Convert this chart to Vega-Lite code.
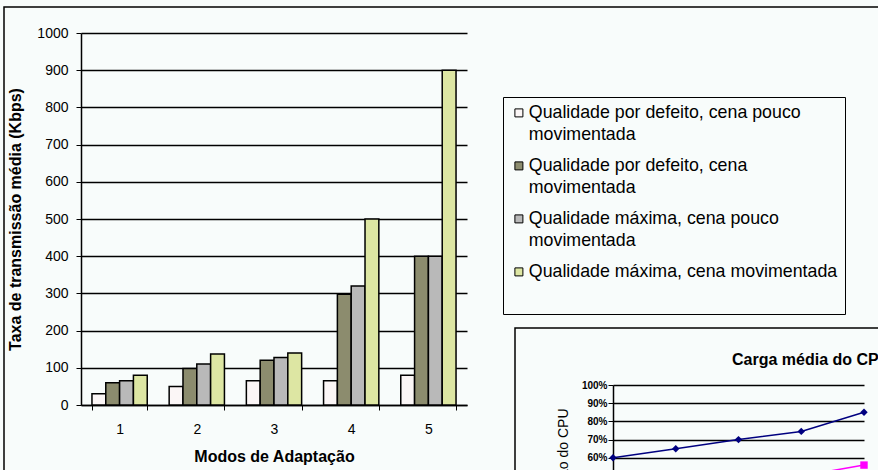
{
  "$schema": "https://vega.github.io/schema/vega-lite/v6.json",
  "width": 894,
  "height": 483,
  "autosize": {"type": "none"},
  "padding": {"left": 4, "top": 7, "right": -20, "bottom": -20},
  "background": "#f8fcfb",
  "config": {
    "font": "Liberation Sans",
    "view": {"stroke": "#000000", "strokeWidth": 1.5, "fill": null},
    "style": {"guide-label": {"lineHeight": 22}},
    "axis": {"labelColor": "#000000", "titleColor": "#000000", "domainColor": "#000000", "tickColor": "#000000", "gridColor": "#000000", "gridOpacity": 1}
  },
  "title": {
    "text": "Carga média do CPU",
    "anchor": "start",
    "frame": "group",
    "orient": "top",
    "offset": 0,
    "dx": 728,
    "dy": 374,
    "fontSize": 16,
    "fontWeight": "bold",
    "color": "#000000",
    "baseline": "alphabetic"
  },
  "datasets": {
    "barras": [
      {"modo": "1", "serie": "Qualidade por defeito, cena pouco movimentada", "valor": 30},
      {"modo": "1", "serie": "Qualidade por defeito, cena movimentada", "valor": 60},
      {"modo": "1", "serie": "Qualidade máxima, cena pouco movimentada", "valor": 65},
      {"modo": "1", "serie": "Qualidade máxima, cena movimentada", "valor": 80},
      {"modo": "2", "serie": "Qualidade por defeito, cena pouco movimentada", "valor": 50},
      {"modo": "2", "serie": "Qualidade por defeito, cena movimentada", "valor": 98},
      {"modo": "2", "serie": "Qualidade máxima, cena pouco movimentada", "valor": 110},
      {"modo": "2", "serie": "Qualidade máxima, cena movimentada", "valor": 137},
      {"modo": "3", "serie": "Qualidade por defeito, cena pouco movimentada", "valor": 65},
      {"modo": "3", "serie": "Qualidade por defeito, cena movimentada", "valor": 120},
      {"modo": "3", "serie": "Qualidade máxima, cena pouco movimentada", "valor": 128},
      {"modo": "3", "serie": "Qualidade máxima, cena movimentada", "valor": 140},
      {"modo": "4", "serie": "Qualidade por defeito, cena pouco movimentada", "valor": 65},
      {"modo": "4", "serie": "Qualidade por defeito, cena movimentada", "valor": 298},
      {"modo": "4", "serie": "Qualidade máxima, cena pouco movimentada", "valor": 320},
      {"modo": "4", "serie": "Qualidade máxima, cena movimentada", "valor": 500},
      {"modo": "5", "serie": "Qualidade por defeito, cena pouco movimentada", "valor": 80},
      {"modo": "5", "serie": "Qualidade por defeito, cena movimentada", "valor": 400},
      {"modo": "5", "serie": "Qualidade máxima, cena pouco movimentada", "valor": 400},
      {"modo": "5", "serie": "Qualidade máxima, cena movimentada", "valor": 900}
    ],
    "cpu": [
      {"modo": "1", "serie": "A", "carga": 0.60},
      {"modo": "2", "serie": "A", "carga": 0.65},
      {"modo": "3", "serie": "A", "carga": 0.70},
      {"modo": "4", "serie": "A", "carga": 0.745},
      {"modo": "5", "serie": "A", "carga": 0.85},
      {"modo": "1", "serie": "B", "carga": 0.40},
      {"modo": "2", "serie": "B", "carga": 0.43},
      {"modo": "3", "serie": "B", "carga": 0.45},
      {"modo": "4", "serie": "B", "carga": 0.50},
      {"modo": "5", "serie": "B", "carga": 0.56}
    ],
    "moldura": [
      {"elemento": "área do gráfico de CPU", "x0": 0, "x1": 1, "y0": 0, "y1": 1}
    ]
  },
  "resolve": {
    "scale": {"x": "independent", "y": "independent", "color": "independent", "shape": "independent"},
    "axis": {"x": "independent", "y": "independent"}
  },
  "layer": [
    {
      "data": {"name": "moldura"},
      "mark": {"type": "rect", "stroke": "#000000", "strokeWidth": 1.5, "fill": null, "fillOpacity": 0},
      "encoding": {
        "x": {"field": "x0", "type": "quantitative", "scale": {"domain": [0, 1], "range": [511, 900], "nice": false, "zero": false}, "axis": null},
        "x2": {"field": "x1"},
        "y": {"field": "y0", "type": "quantitative", "scale": {"domain": [0, 1], "range": [321, 520], "nice": false, "zero": false}, "axis": null},
        "y2": {"field": "y1"}
      }
    },
    {
      "data": {"name": "barras"},
      "mark": {"type": "bar", "stroke": "#000000", "strokeWidth": 1.5},
      "encoding": {
        "x": {
          "field": "modo", "type": "ordinal",
          "scale": {"range": [77, 463], "paddingInner": 0.284, "paddingOuter": 0.142},
          "axis": {
            "orient": "bottom", "offset": -85, "tickBand": "extent", "tickSize": 5, "labelAngle": 0,
            "labelFontSize": 14, "labelPadding": 12, "domainWidth": 1.5, "grid": false,
            "title": "Modos de Adaptação", "titleFontSize": 16, "titleFontWeight": "bold",
            "titleBaseline": "alphabetic", "titleY": 56
          }
        },
        "xOffset": {
          "field": "serie", "type": "nominal",
          "sort": ["Qualidade por defeito, cena pouco movimentada", "Qualidade por defeito, cena movimentada", "Qualidade máxima, cena pouco movimentada", "Qualidade máxima, cena movimentada"],
          "scale": {"paddingInner": 0, "paddingOuter": 0}
        },
        "y": {
          "field": "valor", "type": "quantitative",
          "scale": {"domain": [0, 1000], "range": [398, 26], "nice": false},
          "axis": {
            "orient": "left", "offset": -77, "values": [0, 100, 200, 300, 400, 500, 600, 700, 800, 900, 1000],
            "format": "d",
            "grid": true, "gridWidth": 1.5, "domainWidth": 1.5, "tickSize": 5, "labelFontSize": 14, "labelPadding": 8,
            "title": "Taxa de transmissão média (Kbps)", "titleFontSize": 16, "titleFontWeight": "bold",
            "titleAngle": 270, "titleBaseline": "middle", "titleAlign": "center", "titleX": -66
          }
        },
        "fill": {
          "field": "serie", "type": "nominal",
          "scale": {
            "domain": ["Qualidade por defeito, cena pouco movimentada", "Qualidade por defeito, cena movimentada", "Qualidade máxima, cena pouco movimentada", "Qualidade máxima, cena movimentada"],
            "range": ["#fbf6f6", "#8c8c6e", "#b9b9b9", "#dde6a3"]
          },
          "legend": {
            "orient": "none", "legendX": 499, "legendY": 90,
            "title": " ", "titleOrient": "bottom", "titleFontSize": 12, "titlePadding": 15,
            "strokeColor": "#000000", "fillColor": "#f8fcfb", "padding": 7,
            "labelFontSize": 17.8, "labelColor": "#000000", "labelLimit": 400, "labelOffset": 1,
            "symbolType": "square", "symbolSize": 64, "symbolStrokeColor": "#000000", "symbolStrokeWidth": 1,
            "rowPadding": 12,
            "labelExpr": "datum.label == 'Qualidade por defeito, cena pouco movimentada' ? ['Qualidade por defeito, cena pouco', 'movimentada'] : datum.label == 'Qualidade por defeito, cena movimentada' ? ['Qualidade por defeito, cena', 'movimentada'] : datum.label == 'Qualidade máxima, cena pouco movimentada' ? ['Qualidade máxima, cena pouco', 'movimentada'] : datum.label"
          }
        }
      }
    },
    {
      "data": {"name": "cpu"},
      "encoding": {
        "x": {"field": "modo", "type": "ordinal", "scale": {"type": "point", "range": [609, 860], "padding": 0}, "axis": null},
        "y": {
          "field": "carga", "type": "quantitative",
          "scale": {"domain": [0, 1], "range": [560, 378], "nice": false},
          "axis": {
            "orient": "left", "offset": -609, "values": [0.6, 0.7, 0.8, 0.9, 1],
            "format": ".0%", "grid": true, "gridWidth": 1.5, "domainWidth": 1.5, "tickSize": 5,
            "labelFontSize": 10, "labelFontWeight": "bold", "labelPadding": 1,
            "title": "Utilização do CPU", "titleFontSize": 14, "titleFontWeight": "normal",
            "titleAngle": 270, "titleAlign": "right", "titleBaseline": "middle", "titleX": -50, "titleY": 401
          }
        },
        "color": {"field": "serie", "type": "nominal", "scale": {"domain": ["A", "B"], "range": ["#000080", "#ff00ff"]}, "legend": null}
      },
      "layer": [
        {"mark": {"type": "line", "strokeWidth": 1.5}, "encoding": {}},
        {
          "mark": {"type": "point", "filled": true, "size": 55, "opacity": 1},
          "encoding": {"shape": {"field": "serie", "type": "nominal", "scale": {"domain": ["A", "B"], "range": ["diamond", "square"]}, "legend": null}}
        }
      ]
    }
  ]
}
